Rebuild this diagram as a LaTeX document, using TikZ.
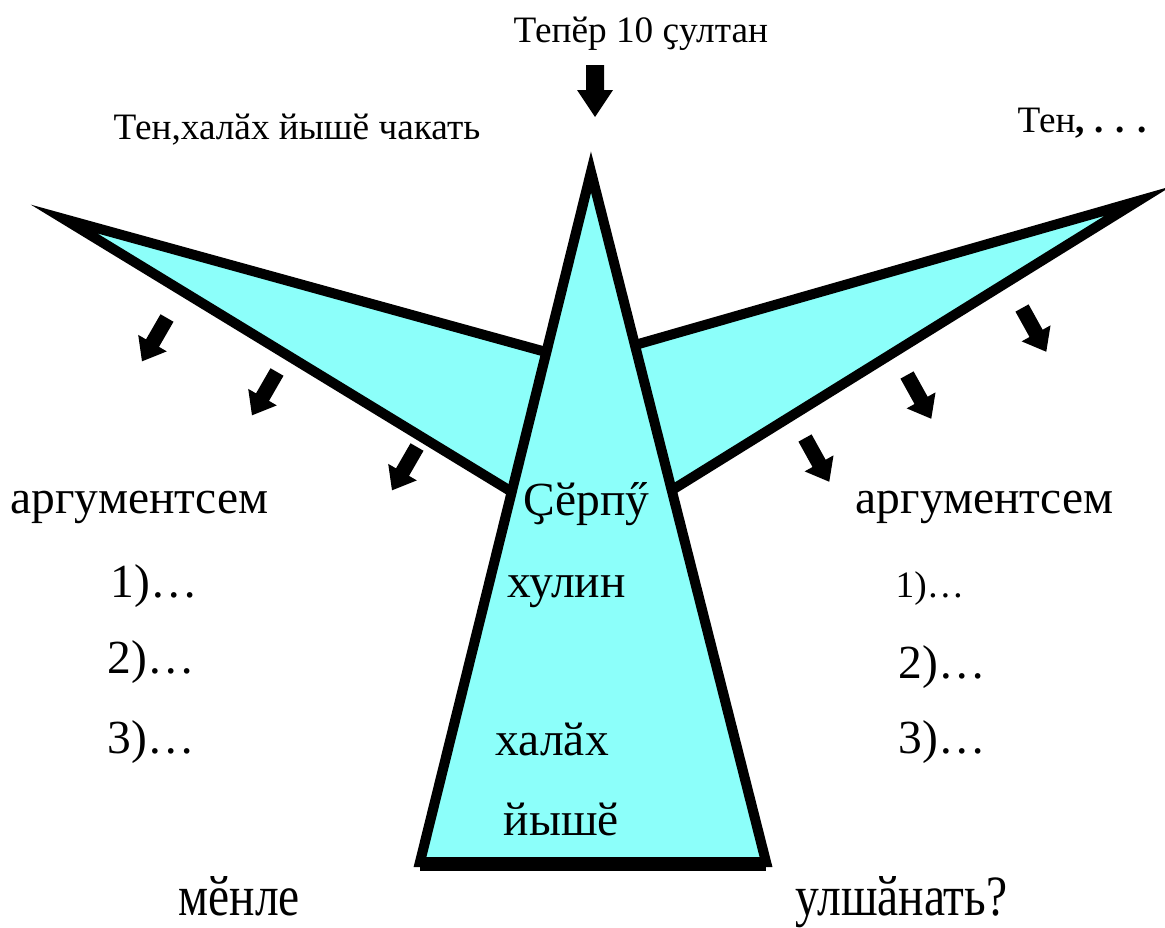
\documentclass[tikz,border=0pt]{standalone}
\usepackage{fontspec}
\setmainfont{Liberation Serif}
\usepackage{graphicx}
\usetikzlibrary{calc}
\definecolor{wingcyan}{RGB}{140,255,250}
\tikzset{
  shapeline/.style={draw=black, line width=2.85pt, fill=wingcyan, line join=miter},
  smalltext/.style={font=\fontsize{10.6}{12}\selectfont, anchor=base west, inner sep=0pt},
  bigtext/.style={font=\fontsize{13.5}{16}\selectfont, anchor=base west, inner sep=0pt},
  pics/blockarrow/.style={code={
    \fill[black] (0,-7.5) -- (29,-7.5) -- (29,-16.5) -- (50,0) -- (29,16.5) -- (29,7.5) -- (0,7.5) -- cycle;}},
  pics/toparrow/.style={code={
    \fill[black] (0,-9) -- (25,-9) -- (25,-18) -- (52,0) -- (25,18) -- (25,9) -- (0,9) -- cycle;}}
}

\begin{document}
\begin{tikzpicture}[x=0.01cm, y=-0.01cm]
\useasboundingbox (0,0) rectangle (1165,927);

% === Wings (behind) ===
\coordinate (wl) at (64,219);
\coordinate (wlup) at (546,352);
\coordinate (wllow) at (512,492);
\draw[shapeline] (wl) -- ($(wl)!1.08!(wlup)$) -- ($(wl)!1.08!(wllow)$) -- cycle;

\coordinate (wr) at (1138,201);
\coordinate (wrup) at (635,345);
\coordinate (wrlow) at (672,490);
\draw[shapeline] (wr) -- ($(wr)!1.08!(wrup)$) -- ($(wr)!1.08!(wrlow)$) -- cycle;

% === Central triangle ===
\coordinate (apex) at (591,172);
\coordinate (bl) at (420,862);
\coordinate (br) at (766,862);
\draw[shapeline] (apex) -- (bl) -- (br) -- cycle;
\draw[line width=3.6pt] ($(bl)+(0,3)$) -- ($(br)+(0,3)$);

% === Arrows ===
\pic[rotate=-90] at (595,65) {toparrow};
\foreach \x/\y in {167/318, 277/372, 417/447}
  \pic[rotate=-120] at (\x,\y) {blockarrow};
\foreach \x/\y in {1022/308, 907/375, 805/438}
  \pic[rotate=-61] at (\x,\y) {blockarrow};

% === Top labels ===
\node[smalltext] (later) at (513,42) {Тепӗр 10 ҫултан};
\node[smalltext] (maybel) at (113,139) {Тен,халӑх йышӗ чакать};
\node[smalltext] (mayber) at (1017,132) {Тен\textbf{, . . .}};

% === Left arguments ===
\node[bigtext] (argl) at (10,513) {аргументсем};
\node[bigtext] (argla) at (110,597) {1)…};
\node[bigtext] (arglb) at (107,673) {2)…};
\node[bigtext] (arglc) at (107,753) {3)…};

% === Right arguments ===
\node[bigtext] (argr) at (855,513) {аргументсем};
\node[smalltext] (argra) at (895,597) {1)…};
\node[bigtext] (argrb) at (898,678) {2)…};
\node[bigtext] (argrc) at (898,753) {3)…};

% === Centre text ===
\node[bigtext] (ca) at (523,515) {Ҫӗрпӳ};
\node[bigtext] (cb) at (507,597) {хулин};
\node[bigtext] (cc) at (495,755) {халӑх};
\node[bigtext] (cd) at (503,835) {йышӗ};

% === Bottom question ===
\node[bigtext] (qa) at (178,915) {\scalebox{1}[1.2]{мӗнле}};
\node[bigtext] (qb) at (795,915) {\scalebox{1}[1.2]{улшӑнать?}};

\end{tikzpicture}
\end{document}
